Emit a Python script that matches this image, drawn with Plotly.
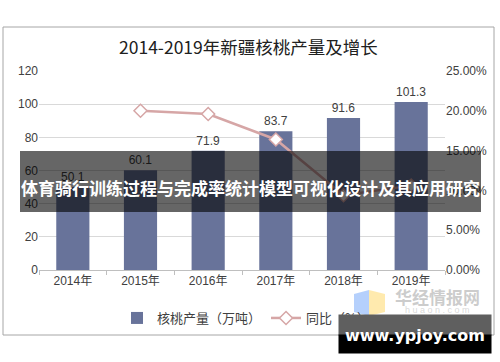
import plotly.graph_objects as go

years = ["2014年", "2015年", "2016年", "2017年", "2018年", "2019年"]
output = [50.1, 60.1, 71.9, 83.7, 91.6, 101.3]
growth_years = ["2015年", "2016年", "2017年", "2018年", "2019年"]
growth = [0.200, 0.196, 0.164, 0.094, 0.106]
title_text = "2014-2019年新疆核桃产量及增长"
banner_text = "体育骑行训练过程与完成率统计模型可视化设计及其应用研究"

W, H = 500, 362
L, R, T, B = 39, 445, 71, 270

def px(x):
    return (x - L) / (R - L)

def py(y):
    return (B - y) / (B - T)

FONT = "Liberation Sans, Arial, Noto Sans CJK SC, sans-serif"
CJK = "Noto Sans CJK SC, sans-serif"

fig = go.Figure()
fig.add_trace(go.Bar(
    x=years, y=output, name="核桃产量（万吨）",
    marker=dict(color="#68739a", line=dict(width=0)),
    width=0.49,
    text=[f"{v:.1f}" for v in output], textposition="outside",
    textfont=dict(size=12, color="#404040", family=FONT),
    cliponaxis=False,
))
fig.add_trace(go.Scatter(
    x=growth_years, y=growth, name="同比（%）", yaxis="y2",
    mode="lines+markers",
    line=dict(color="#d6a6a6", width=2.5),
    marker=dict(symbol="diamond", size=10, color="white",
                line=dict(color="#d6a6a6", width=1.5)),
))

shapes = [
    dict(type="rect", xref="paper", yref="paper",
         x0=px(3), x1=px(494), y0=py(335), y1=py(27),
         line=dict(color="#a6a6a6", width=1), layer="below"),
    dict(type="rect", xref="paper", yref="paper",
         x0=px(20), x1=px(481), y0=py(212), y1=py(151),
         fillcolor="rgba(0,0,0,0.6)", line=dict(width=0), layer="above"),
    dict(type="path", xref="paper", yref="paper",
         path=f"M {px(354)} {py(294)} L {px(369)} {py(290)} L {px(369)} {py(316)} L {px(354)} {py(312)} Z",
         fillcolor="rgba(120,170,250,0.55)", line=dict(width=0), layer="above"),
    dict(type="path", xref="paper", yref="paper",
         path=f"M {px(369)} {py(290)} L {px(385)} {py(294)} L {px(385)} {py(312)} L {px(369)} {py(316)} Z",
         fillcolor="rgba(255,220,120,0.6)", line=dict(width=0), layer="above"),
]

annotations = [
    dict(text=title_text, xref="paper", yref="paper", x=px(248), y=py(47),
         showarrow=False, font=dict(size=17.5, color="#202020", family=CJK),
         xanchor="center", yanchor="middle"),
    dict(text=f"<b>{banner_text}</b>", xref="paper", yref="paper",
         x=px(250), y=py(187), showarrow=False,
         font=dict(size=17, color="white", family=CJK),
         xanchor="center", yanchor="middle"),
    dict(text="<b>华经情报网</b>", xref="paper", yref="paper",
         x=px(437), y=py(296), showarrow=False,
         font=dict(size=17, color="rgba(170,170,170,0.6)", family=CJK),
         xanchor="center", yanchor="middle"),
    dict(text="h u a o n . c o m", xref="paper", yref="paper",
         x=px(437), y=py(310), showarrow=False,
         font=dict(size=9, color="rgba(190,190,190,0.6)", family=FONT),
         xanchor="center", yanchor="middle"),
    dict(text="", xref="paper", yref="paper", x=px(415), y=py(325),
         showarrow=False, width=152, height=20, bgcolor="#5f5f5f",
         xanchor="center", yanchor="middle", borderpad=0),
    dict(text="", xref="paper", yref="paper", x=px(415), y=py(344),
         showarrow=False, width=152, height=18, bgcolor="#000000",
         xanchor="center", yanchor="middle", borderpad=0),
    dict(text="<b>www.ypjoy.com</b>", xref="paper", yref="paper",
         x=px(415), y=py(335), showarrow=False,
         font=dict(size=16, color="white", family="DejaVu Sans, sans-serif"),
         xanchor="center", yanchor="middle"),
]

fig.update_layout(
    width=W, height=H,
    margin=dict(l=L, r=W - R, t=T, b=H - B, autoexpand=False),
    paper_bgcolor="white", plot_bgcolor="white",
    showlegend=True,
    legend=dict(orientation="h", x=px(246), y=py(318), xanchor="center",
                yanchor="middle", font=dict(size=13, color="#404040", family=CJK),
                bgcolor="rgba(0,0,0,0)", itemwidth=30),
    xaxis=dict(type="category", range=[-0.5, 5.5], showgrid=False,
               showline=True, linecolor="#bfbfbf", linewidth=1,
               ticks="outside", tickson="boundaries", ticklen=4, tickcolor="#bfbfbf",
               tickfont=dict(size=12, color="#404040", family=FONT)),
    yaxis=dict(range=[0, 120], dtick=20, showgrid=True, gridcolor="#d9d9d9",
               gridwidth=1, zeroline=False, showline=False,
               tickfont=dict(size=12, color="#404040", family=FONT)),
    yaxis2=dict(range=[0, 0.25], dtick=0.05, tickformat=".2%", overlaying="y",
                side="right", showgrid=False, zeroline=False, showline=False,
                tickfont=dict(size=12, color="#404040", family=FONT)),
    shapes=shapes, annotations=annotations,
)

fig.write_html("out.html", config={"displayModeBar": False},
               post_script="document.body.style.margin='0';document.body.style.overflow='hidden';")
